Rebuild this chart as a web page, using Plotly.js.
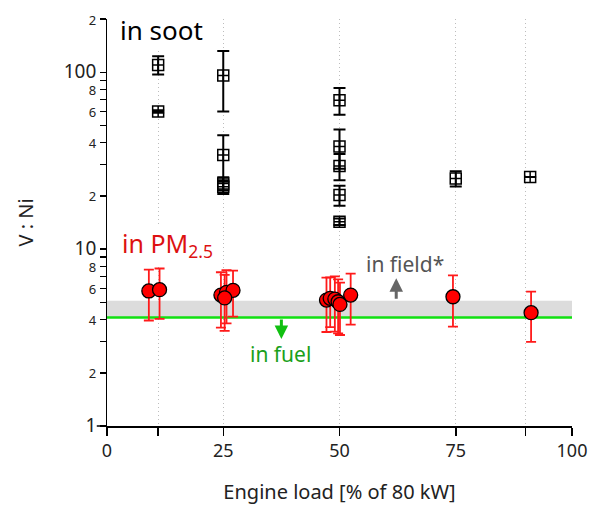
<!DOCTYPE html>
<html>
<head>
<meta charset="utf-8">
<script src="https://cdn.plot.ly/plotly-3.0.1.min.js"></script>
<style>body{margin:0;padding:0;background:#fff;} #chart{width:591px;height:508px;}</style>
</head>
<body>
<div id="chart"></div>
<script>
// ---- data ----
const sootLoad = [11, 11, 25, 25, 25, 25, 50, 50, 50, 50, 50, 75, 91];
const sootRatio = [110, 60, 96, 34, 23.5, 22.5, 69.5, 38, 29.5, 20.2, 14.3, 25.1, 25.6];
const sootErr = [13, 1, 36, 10, 2, 2, 12, 9.5, 5, 2.6, 0.6, 2.5, 0];

const pmLoad = [9.0, 11.3, 24.5, 25.7, 27.1, 25.3, 47.2, 48.0, 49.0, 49.7, 50.1, 52.4, 74.4, 91.2];
const pmRatio = [5.8, 5.9, 5.5, 5.7, 5.85, 5.3, 5.15, 5.27, 5.22, 5.04, 4.87, 5.5, 5.38, 4.37];
const pmErr = [1.85, 1.87, 1.9, 1.9, 1.7, 1.85, 1.75, 1.65, 1.8, 1.7, 1.6, 1.76, 1.73, 1.38];

const fuelRatio = [4.1];          // V:Ni in fuel
const fieldRange = [4.1, 5.1];    // V:Ni field band
const xExtent = [0, 100];

const xTickVals = [0, 11, 25, 50, 75, 90, 100];
const xTickText = ['0', '', '25', '50', '75', '', '100'];
const yTickVals = [1,2,3,4,5,6,7,8,9,10,20,30,40,50,60,70,80,90,100,200];
const yTickLabels = ['1','2','','4','','6','','8','','10','2','','4','','6','','8','','100','2'];
const bigTicks = ['1','10','100'];

const FONT = 'Noto Sans, Open Sans, DejaVu Sans, sans-serif';
const yTickText = yTickLabels.map(t => t === '' ? '' :
  (bigTicks.includes(t) ? '<span style="font-size:19px">' + t + '</span>' : '<span style="font-size:13px">' + t + '</span>'));

const traces = [
  {
    x: sootLoad, y: sootRatio, type: 'scatter', mode: 'markers',
    marker: {symbol: 'square-cross-open', size: 11, color: '#000', line: {width: 1.5, color: '#000'}},
    error_y: {type: 'data', array: sootErr, visible: true, color: '#000', thickness: 2, width: 6},
    showlegend: false, cliponaxis: false
  },
  {
    x: pmLoad, y: pmRatio, type: 'scatter', mode: 'markers',
    marker: {symbol: 'circle', size: 14, color: '#ff0000', line: {width: 1.3, color: '#000'}},
    error_y: {type: 'data', array: pmErr, visible: true, color: '#ff1a1a', thickness: 1.8, width: 5},
    showlegend: false, cliponaxis: false
  }
];

const layout = {
  width: 591, height: 508,
  margin: {l: 107, r: 19, t: 19, b: 82},
  paper_bgcolor: '#fff', plot_bgcolor: '#fff',
  font: {family: FONT, size: 16, color: '#222'},
  showlegend: false,
  xaxis: {
    range: xExtent, tickmode: 'array', tickvals: xTickVals, ticktext: xTickText,
    ticks: 'outside', ticklen: 8, tickwidth: 1.5, tickcolor: '#000',
    showline: true, linecolor: '#000', linewidth: 1.5,
    showgrid: true, gridcolor: '#bdbdbd', griddash: '1px,3px', gridwidth: 1.2,
    zeroline: false, tickfont: {size: 18, color: '#222'},
    title: {text: 'Engine load [% of 80 kW]', font: {size: 20, color: '#222'}, standoff: 24}
  },
  yaxis: {
    type: 'log', range: [0, Math.log10(200)], tickmode: 'array', tickvals: yTickVals, ticktext: yTickText,
    ticks: 'outside', ticklen: 6, tickwidth: 1.5, tickcolor: '#000',
    showline: true, linecolor: '#000', linewidth: 1.5,
    showgrid: false, zeroline: false, tickfont: {size: 16, color: '#222'},
    title: {text: 'V : Ni', font: {size: 20, color: '#222'}, standoff: 24}
  },
  shapes: [
    {type: 'rect', xref: 'x', yref: 'y', x0: xExtent[0], x1: xExtent[1], y0: fieldRange[0], y1: fieldRange[1],
     fillcolor: '#dcdcdc', line: {width: 0}, layer: 'between'},
    {type: 'line', xref: 'x', yref: 'y', x0: xExtent[0], x1: xExtent[1], y0: fuelRatio[0], y1: fuelRatio[0],
     line: {color: '#11e011', width: 2.5}, layer: 'between'},
    {type: 'line', xref: 'paper', yref: 'paper', x0: -0.022, x1: 0, y0: 0, y1: 0, line: {color: '#000', width: 1.5}},
    {type: 'line', xref: 'paper', yref: 'paper', x0: 0, x1: 0, y0: 0, y1: -0.022, line: {color: '#000', width: 1.5}}
  ],
  annotations: [
    {xref: 'paper', yref: 'paper', x: 0.024, y: 0.973, xanchor: 'left', yanchor: 'middle', showarrow: false,
     text: 'in soot', font: {size: 26, color: '#000'}, bgcolor: '#fff'},
    {xref: 'paper', yref: 'paper', x: 0.028, y: 0.445, xanchor: 'left', yanchor: 'middle', showarrow: false,
     text: 'in PM<sub>2.5</sub>', font: {size: 25, color: '#dd1111'}, bgcolor: '#fff'},
    {xref: 'paper', yref: 'paper', x: 0.641, y: 0.398, xanchor: 'center', yanchor: 'middle', showarrow: false,
     text: 'in field*', font: {size: 21, color: '#555'}},
    {xref: 'paper', yref: 'paper', x: 0.374, y: 0.178, xanchor: 'center', yanchor: 'middle', showarrow: false,
     text: 'in fuel', font: {size: 21, color: '#1aa01a'}},
    {xref: 'x', yref: 'y', x: 62.2, y: Math.log10(6.85), ax: 0, ay: 22, showarrow: true, text: '',
     arrowhead: 2, arrowsize: 0.9, arrowwidth: 3, arrowcolor: '#666'},
    {xref: 'x', yref: 'y', x: 37.5, y: Math.log10(3.1), ax: 0, ay: -21, showarrow: true, text: '',
     arrowhead: 2, arrowsize: 0.9, arrowwidth: 3, arrowcolor: '#11c011'}
  ]
};

Plotly.newPlot('chart', traces, layout, {staticPlot: true, displayModeBar: false});
</script>
</body>
</html>
